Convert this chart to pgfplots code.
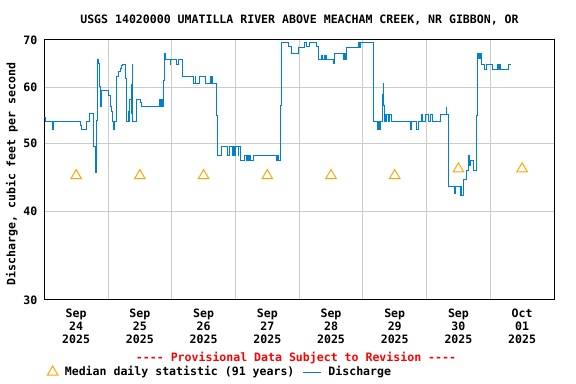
\documentclass[border=0pt]{standalone}
\usepackage{fontspec}
\setmonofont{DejaVu Sans Mono}
\usepackage{pgfplots}
\pgfplotsset{compat=1.18}
\definecolor{flow}{RGB}{0,128,208}
\definecolor{med}{RGB}{255,165,0}
\definecolor{gridc}{RGB}{204,204,204}
\newcommand{\usgsfont}{\ttfamily\bfseries\fontsize{11.6}{13}\selectfont}
\pgfplotstableread{
h q
0 54.3
0.38 53.6
3.01 52.2
3.39 53.6
13.45 53.0
13.94 52.2
15.97 53.6
17.21 55.0
18.46 54.4
18.72 49.5
19.21 45.4
19.66 53.8
19.96 65.7
20.60 64.8
20.87 60.2
21.25 56.3
21.47 59.4
24.37 58.5
25.01 56.3
25.39 55.4
25.61 53.7
25.88 52.2
26.26 53.1
26.63 53.7
27.12 62.2
27.88 63.2
28.52 63.8
29.01 64.5
29.38 64.7
30.66 61.8
30.89 55.0
31.15 53.6
31.79 55.5
32.02 53.6
32.28 57.6
32.66 55.0
32.92 60.5
33.15 64.7
33.30 53.6
34.81 57.7
36.05 57.1
36.54 56.3
43.21 57.7
43.47 56.3
43.85 57.7
44.07 56.3
44.34 57.7
44.60 56.3
44.83 61.4
45.09 66.9
45.47 65.7
47.35 64.6
47.61 65.7
49.87 64.6
50.48 65.7
52.13 62.2
56.39 60.8
56.77 62.2
57.03 60.8
58.65 62.2
60.54 60.8
62.42 62.2
62.68 60.8
63.06 62.2
63.44 60.8
64.79 54.8
65.17 48.1
66.83 49.5
69.08 48.1
69.58 49.5
70.82 48.1
71.19 49.5
71.57 48.1
72.10 49.5
73.08 48.1
73.34 49.5
73.72 48.1
74.09 47.2
75.60 48.1
75.98 47.2
76.47 48.1
76.99 47.2
77.48 48.1
77.86 47.2
78.73 48.1
87.28 47.2
87.77 48.1
88.15 47.2
88.79 48.1
89.05 56.6
89.43 69.5
91.91 68.5
93.19 66.9
95.68 68.4
97.83 69.5
98.84 68.5
99.82 69.5
102.35 68.5
103.21 65.7
104.49 66.6
104.87 65.7
105.36 66.6
105.74 65.7
106.11 66.6
106.38 65.7
108.86 64.8
109.50 66.9
112.63 65.7
113.01 66.9
113.54 65.7
113.91 68.4
118.28 69.5
118.66 68.4
119.19 69.5
123.93 53.6
125.44 52.2
125.82 53.6
126.08 52.2
126.46 53.6
127.21 58.6
127.59 60.8
127.85 56.5
128.08 53.6
128.34 54.9
128.72 53.6
129.09 54.9
129.47 53.6
130.22 54.9
130.60 53.6
137.76 52.2
138.40 53.6
140.28 52.2
140.77 53.6
142.16 54.9
142.54 53.6
143.78 54.9
144.65 53.6
145.55 54.9
146.31 53.6
149.43 54.9
151.32 56.2
151.69 54.9
152.18 43.4
154.70 42.5
155.08 43.4
156.59 42.2
156.96 43.4
157.34 42.2
157.83 44.4
158.85 45.7
159.71 48.1
159.98 46.5
160.36 47.3
161.49 45.7
162.88 54.8
163.11 67.0
163.49 66.0
163.75 67.0
164.13 66.0
164.50 67.0
164.77 64.7
165.63 63.6
166.65 64.7
168.91 63.6
170.64 64.7
170.91 63.6
171.28 64.7
171.66 63.6
174.78 64.7
175.69 64.7
}\flowtable
\pgfplotstableread{
h m
12 45
36 45
60 45
84 45
108 45
132 45
156 46
180 46
}\medtable
\begin{document}
\usgsfont
\begin{tikzpicture}
\useasboundingbox (0,0) rectangle (576bp,384bp);
\begin{axis}[
  at={(44.3bp,84bp)}, anchor=south west,
  scale only axis, width=509.7bp, height=260bp,
  xmin=0, xmax=192, ymin=30, ymax=70, ymode=log,
  ytick={30,40,50,60,70}, yticklabels={30,40,50,60,70},
  xtick={12,36,...,180},
  xticklabels={{Sep\\24\\2025},{Sep\\25\\2025},{Sep\\26\\2025},{Sep\\27\\2025},{Sep\\28\\2025},{Sep\\29\\2025},{Sep\\30\\2025},{Oct\\01\\2025}},
  minor xtick={24,48,...,168},
  xminorgrids, ymajorgrids,
  major tick length=0pt, minor tick length=0pt,
  major grid style={gridc, line width=1bp},
  minor grid style={gridc, line width=1bp},
  axis line style={line width=1bp},
  /pgf/number format/assume math mode=true,
  xticklabel style={align=center, font=\usgsfont, yshift=-5bp},
  yticklabel style={font=\usgsfont, xshift=-3bp},
  legend style={at={(0,-0.277)}, anchor=west, draw=none, fill=none,
    font=\usgsfont,
    /tikz/every odd column/.append style={column sep=5bp},
    /tikz/every even column/.append style={column sep=6bp}},
  legend columns=2,
]
\addplot[only marks, mark=triangle, mark size=6bp, color=med, mark options={line width=1bp}] table[x=h, y=m] {\medtable};
\addlegendentry{Median daily statistic (91 years)}
\addplot[const plot, color=flow, line width=1bp,
  legend image code/.code={\draw[flow, line width=1bp] (0bp,0bp) -- (18bp,0bp);}] table[x=h, y=q] {\flowtable};
\addlegendentry{Discharge}
\end{axis}
\node at (299.5bp,364bp) {USGS 14020000 UMATILLA RIVER ABOVE MEACHAM CREEK, NR GIBBON, OR};
\node[rotate=90] at (12bp,210bp) {Discharge, cubic feet per second};
\node[text=red] at (296bp,26bp) {---- Provisional Data Subject to Revision ----};
\end{tikzpicture}
\end{document}
